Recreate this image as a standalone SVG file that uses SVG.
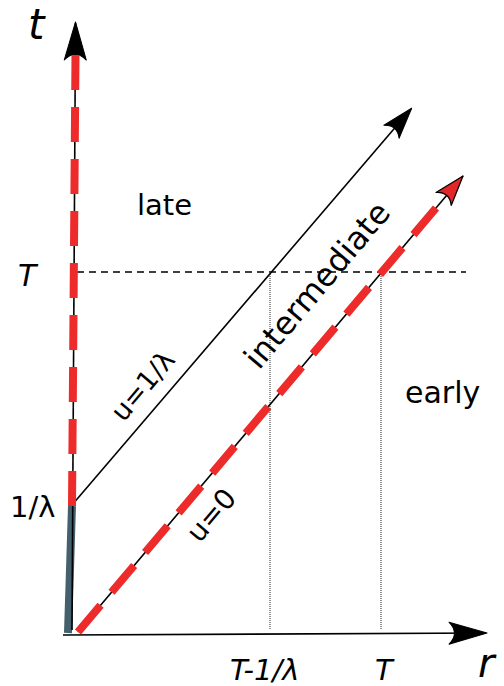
<svg xmlns="http://www.w3.org/2000/svg" width="504" height="686" viewBox="0 0 504 686">
  <style>
    .lbl { font-family: "DejaVu Sans", "Liberation Sans", sans-serif; fill: #000; }
    .it { font-style: italic; }
    .thin { fill: none; stroke: #000; stroke-width: 1.6; }
    .reddash { fill: none; stroke: #ee2b2b; stroke-width: 8; stroke-dasharray: 35 17; }
    .guide { fill: none; stroke: #000; stroke-width: 1.3; stroke-dasharray: 7 5; }
    .dot { fill: none; stroke: #666; stroke-width: 1.4; stroke-dasharray: 1 1; }
  </style>
  <defs>
    <marker id="arrowBig" markerUnits="userSpaceOnUse" viewBox="-40 -14 42 28" markerWidth="42" markerHeight="28" refX="0" refY="0" orient="auto" overflow="visible">
      <path d="M1,0 L-37,-11 C-30,-4 -30,4 -37,11 Z" fill="#000" stroke="#000" stroke-width="1" stroke-linejoin="round"/>
    </marker>
    <marker id="arrowMid" markerUnits="userSpaceOnUse" viewBox="-34 -12 36 24" markerWidth="36" markerHeight="24" refX="0" refY="0" orient="auto" overflow="visible">
      <path d="M1,0 L-30,-10 C-24,-3.5 -24,3.5 -30,10 Z" fill="#000" stroke="#000" stroke-width="1" stroke-linejoin="round"/>
    </marker>
    <marker id="arrowRed" markerUnits="userSpaceOnUse" viewBox="-34 -12 36 24" markerWidth="36" markerHeight="24" refX="0" refY="0" orient="auto" overflow="visible">
      <path d="M0,0 L-30,-10 C-24,-3.5 -24,3.5 -30,10 Z" fill="#e3262a" stroke="#000" stroke-width="1.3" stroke-linejoin="round"/>
    </marker>
  </defs>

  <g id="connectors">
    <line id="guide-T" class="guide" x1="77" y1="272" x2="466" y2="272"/>
    <line id="dot-T1" class="dot" x1="270" y1="272" x2="270" y2="630"/>
    <line id="dot-T2" class="dot" x1="381" y1="272" x2="381" y2="630"/>

    <line id="seg-slate" x1="68" y1="633" x2="72" y2="506" stroke="#44606c" stroke-width="8"/>

    <line id="axis-r" class="thin" x1="63" y1="635" x2="486" y2="633" marker-end="url(#arrowBig)"/>
    <line id="axis-t" class="thin" x1="72" y1="630" x2="75.5" y2="23" marker-end="url(#arrowBig)"/>

    <line id="line-u1" class="thin" x1="72" y1="505" x2="411" y2="109" marker-end="url(#arrowMid)"/>
    <line id="line-u0" class="thin" x1="78" y1="632" x2="463" y2="176" marker-end="url(#arrowRed)"/>

    <line id="red-t" class="reddash" x1="75.5" y1="55" x2="72" y2="506"/>
    <path id="red-u0" class="reddash" d="M78,632 L436,208"/>
  </g>

  <g id="labels">
    <text id="lbl-t" class="lbl it" x="28" y="39" font-size="42">t</text>
    <text id="lbl-r" class="lbl it" x="478" y="677" font-size="40">r</text>
    <text id="lbl-late" class="lbl" x="137" y="215" font-size="29">late</text>
    <text id="lbl-early" class="lbl" x="405" y="403" font-size="30">early</text>
    <text id="lbl-T-left" class="lbl it" x="18" y="286" font-size="30">T</text>
    <text id="lbl-inv" class="lbl" x="10" y="517" font-size="29">1/λ</text>
    <text id="lbl-T1" class="lbl it" x="230" y="680" font-size="29">T-1/λ</text>
    <text id="lbl-T2" class="lbl it" x="375" y="680" font-size="29">T</text>
    <text id="lbl-intermediate" class="lbl" font-size="32" text-anchor="middle" transform="translate(317,285) rotate(-49.8)" y="11">intermediate</text>
    <text id="lbl-u1" class="lbl" font-size="27" text-anchor="middle" transform="translate(143,386) rotate(-49.8)" y="9">u=1/λ</text>
    <text id="lbl-u0" class="lbl" font-size="28" text-anchor="middle" transform="translate(211,515) rotate(-49.8)" y="10">u=0</text>
  </g>
</svg>
